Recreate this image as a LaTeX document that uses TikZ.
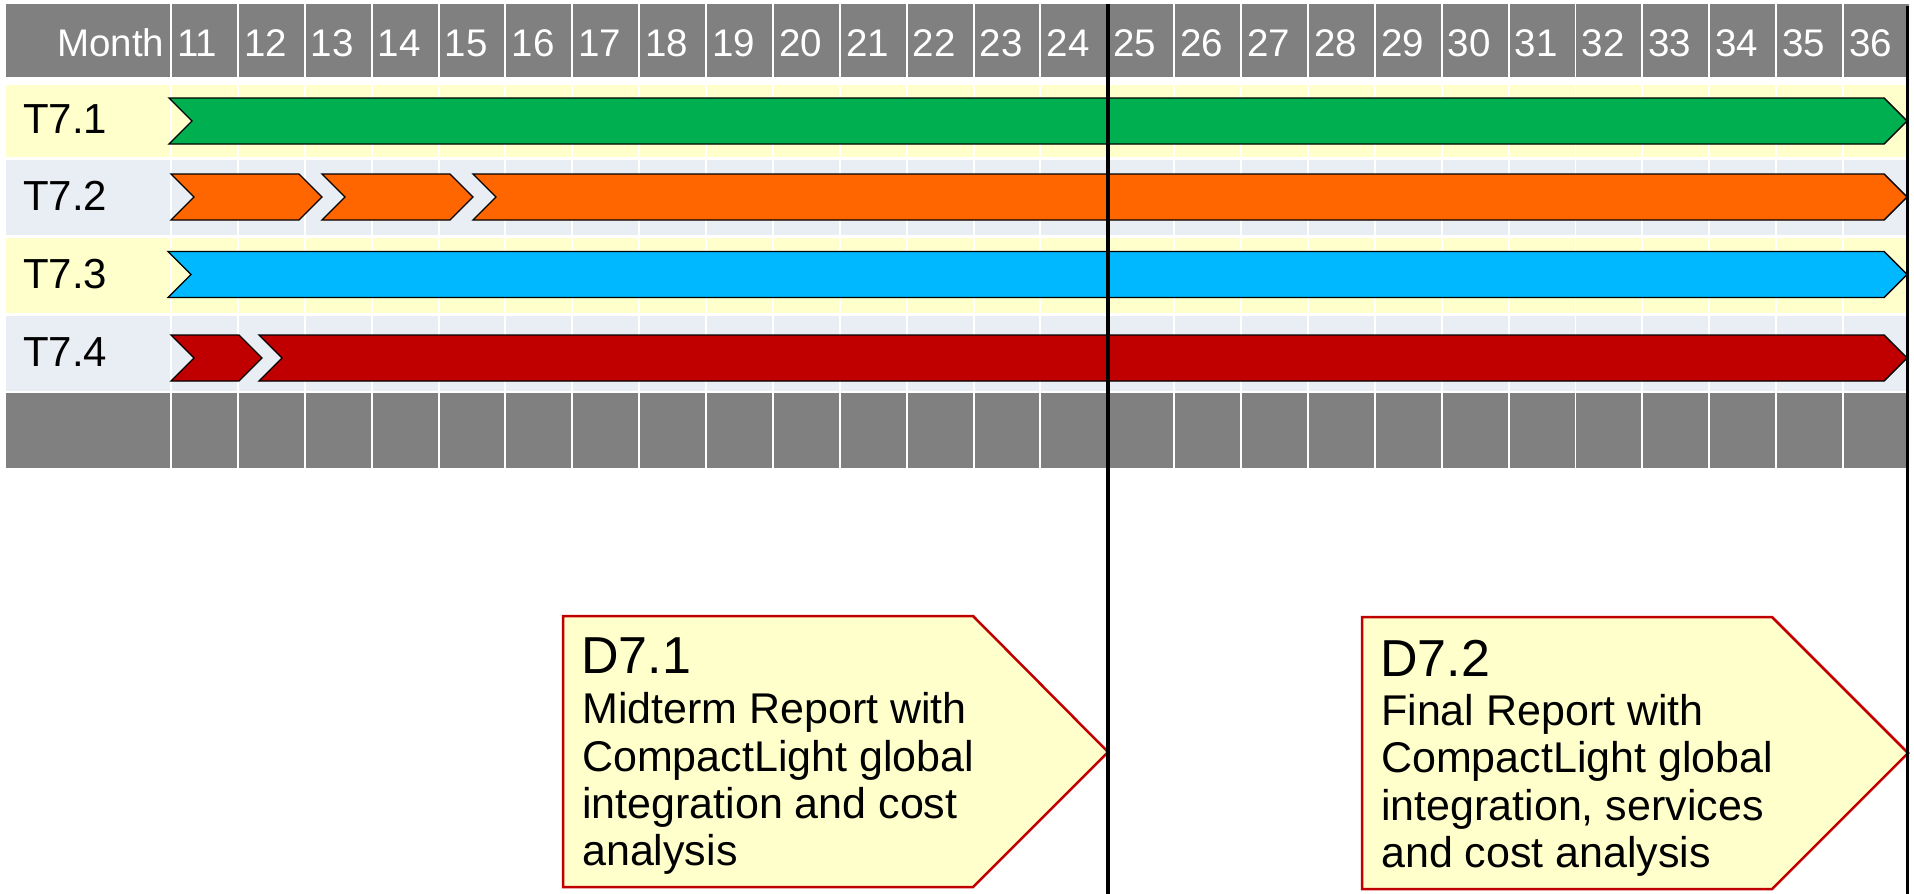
\documentclass[tikz,border=0pt]{standalone}
\usepackage{fontspec}
\setmainfont{Liberation Sans}
\definecolor{hgray}{HTML}{808080}
\definecolor{ryel}{HTML}{FFFFCC}
\definecolor{rblu}{HTML}{E9EDF4}
\definecolor{cgreen}{HTML}{00B050}
\definecolor{corange}{HTML}{FF6600}
\definecolor{ccyan}{HTML}{00B8FF}
\definecolor{cred}{HTML}{C00000}
\newcommand\chevbar[4]{\draw[barline,fill=#4] (#1,{#3-23}) -- ({#2-23},{#3-23}) -- (#2,#3) -- ({#2-23},{#3+23}) -- (#1,{#3+23}) -- ({#1+23},#3) -- cycle;}
\begin{document}
\begin{tikzpicture}[x=1pt,y=-1pt,
  hdrtxt/.style={text=white,inner sep=0pt,font=\fontsize{38.5}{46}\selectfont},
  rowtxt/.style={text=black,inner sep=0pt,anchor=base west,font=\fontsize{42}{50}\selectfont},
  barline/.style={draw=black,line width=1.4pt,line join=miter},
  delbox/.style={draw=cred,fill=ryel,line width=2.5pt,line join=miter},
  deltitle/.style={inner sep=0pt,anchor=base west,font=\fontsize{52}{62}\selectfont},
  deltxt/.style={inner sep=0pt,anchor=base west,font=\fontsize{43}{50}\selectfont},
  mline/.style={draw=black,line width=3.5pt}]
\useasboundingbox[fill=white] (0,0) rectangle (1914,894);
% grid cells
\foreach \ya/\yb/\c in {4/77/hgray,85/157/ryel,160/235/rblu,238/313/ryel,316/391/rblu,393/468/hgray}{
  \fill[\c] (6,\ya) rectangle (170,\yb);
  \foreach \k in {0,...,25}{
    \fill[\c] ({172+66.88*\k},\ya) rectangle ({172+66.88*\k+64.9},\yb);
  }
}
% header texts
\node[hdrtxt,anchor=base east] (month) at (164.5,56) {Month};
\foreach \m [count=\k from 0] in {11,...,36}{
  \node[hdrtxt,anchor=base west] (m\m) at ({177+66.88*\k},56) {\m};
}
% row labels
\node[rowtxt] (t1) at (23,133) {T7.1};
\node[rowtxt] (t2) at (23,210) {T7.2};
\node[rowtxt] (t3) at (23,288) {T7.3};
\node[rowtxt] (t4) at (23,366) {T7.4};
% bars
\chevbar{169}{1907}{121}{cgreen}
\chevbar{171}{322}{197}{corange}
\chevbar{322}{473}{197}{corange}
\chevbar{473}{1907}{197}{corange}
\chevbar{168}{1907}{274.5}{ccyan}
\chevbar{171}{262}{358}{cred}
\chevbar{259}{1907}{358}{cred}
% deliverables
\draw[delbox] (563,616) -- (973,616) -- (1108,752) -- (973,887) -- (563,887) -- cycle;
\draw[delbox] (1362,617) -- (1772,617) -- (1908,753) -- (1772,889) -- (1362,889) -- cycle;
\node[deltitle] (d1) at (581,673) {D7.1};
\node[deltxt] (d1a) at (582,723) {Midterm Report with};
\node[deltxt] (d1b) at (582,771) {CompactLight global};
\node[deltxt] (d1c) at (582,818) {integration and cost};
\node[deltxt] (d1d) at (582,865) {analysis};
\node[deltitle] (d2) at (1380,676) {D7.2};
\node[deltxt] (d2a) at (1381,725) {Final Report with};
\node[deltxt] (d2b) at (1381,772) {CompactLight global};
\node[deltxt] (d2c) at (1381,820) {integration, services};
\node[deltxt] (d2d) at (1381,867) {and cost analysis};
% milestone lines
\draw[mline] (1108,4) -- (1108,894);
\draw[mline,line width=3pt] (1907,6) -- (1907,894);
\end{tikzpicture}
\end{document}
